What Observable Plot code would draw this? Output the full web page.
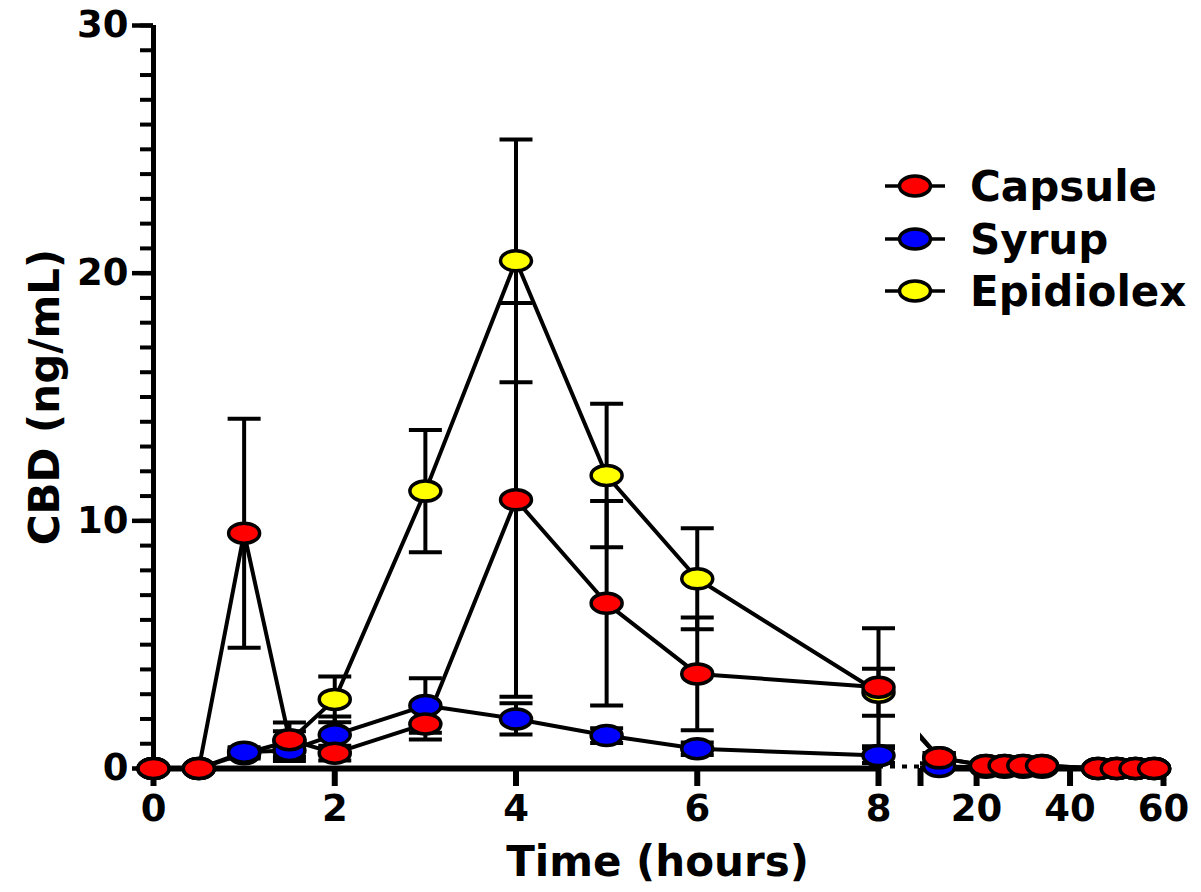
<!DOCTYPE html>
<html><head><meta charset="utf-8">
<script src="https://cdn.jsdelivr.net/npm/d3@7"></script>
<script src="https://cdn.jsdelivr.net/npm/@observablehq/plot@0.6"></script>
<style>
body{margin:0;background:#fff;}
#wrap{position:relative;width:1201px;height:892px;}
#wrap svg.legend{position:absolute;left:0;top:0;pointer-events:none;}
</style></head><body><div id="wrap"></div>
<script>
// ---- data ----
const times = [0, 0.5, 1, 1.5, 2, 3, 4, 5, 6, 8, 12, 22, 26, 30, 34, 46, 50, 54, 58];
const capsuleMean   = [0, 0, 9.5, 1.16, 0.62, 1.8, 10.85, 6.67, 3.82, 3.28, 0.43, 0.12, 0.12, 0.12, 0.12, 0, 0, 0, 0];
const capsuleSD     = [0, 0, 4.62, 0.7, 0.3, 0.63, 7.95, 4.13, 2.28, 2.38, 0.2, 0.05, 0.05, 0.05, 0.05, 0, 0, 0, 0];
const syrupMean     = [0, 0, 0.66, 0.73, 1.36, 2.54, 2.0, 1.33, 0.8, 0.52, 0.08, 0.05, 0.05, 0.05, 0.05, 0, 0, 0, 0];
const syrupSD       = [0, 0, 0.2, 0.43, 0.74, 1.1, 0.63, 0.3, 0.25, 0.3, 0.05, 0, 0, 0, 0, 0, 0, 0, 0];
const epidiolexMean = [0, 0, 0.6, 1.1, 2.79, 11.2, 20.5, 11.83, 7.66, 3.08, 0.43, 0.12, 0.12, 0.12, 0.12, 0, 0, 0, 0];
const epidiolexSD   = [0, 0, 0.2, 0.4, 0.92, 2.47, 4.9, 2.9, 2.04, 0.95, 0.2, 0, 0, 0, 0, 0, 0, 0, 0];

const seriesNames  = ["Capsule", "Syrup", "Epidiolex"];
const seriesColors = ["#ff0000", "#0000ff", "#ffff00"];
const xTicks = [0, 2, 4, 6, 8, 20, 40, 60];
const yTicks = [0, 10, 20, 30];
const yMinorTicks = d3.range(0, 31, 1);
const breakStart = 8, breakEnd = 8.001;
const xLabel = "Time (hours)";
const yLabel = "CBD (ng/mL)";

// ---- table ----
const means = [capsuleMean, syrupMean, epidiolexMean];
const sds = [capsuleSD, syrupSD, epidiolexSD];
const drawOrder = [2, 1, 0]; // Epidiolex below, Capsule on top
const rows = [];
for (const s of drawOrder) {
  times.forEach((t, i) => rows.push({series: seriesNames[s], t, mean: means[s][i], sd: sds[s][i]}));
}
const errRows = rows.filter(d => d.sd > 0);

const K = 0.5523;
const ellipse = {draw(ctx) {
  const rx = 15.5, ry = 10;
  ctx.moveTo(rx, 0);
  ctx.bezierCurveTo(rx, K * ry, K * rx, ry, 0, ry);
  ctx.bezierCurveTo(-K * rx, ry, -rx, K * ry, -rx, 0);
  ctx.bezierCurveTo(-rx, -K * ry, -K * rx, -ry, 0, -ry);
  ctx.bezierCurveTo(K * rx, -ry, rx, -K * ry, rx, 0);
  ctx.closePath();
}};
const cap = {draw(ctx) { ctx.moveTo(-16.5, 0); ctx.lineTo(16.5, 0); }};

const chart = Plot.plot({
  width: 1201, height: 892,
  marginLeft: 153, marginRight: 40, marginTop: 25, marginBottom: 124,
  style: {fontFamily: "'DejaVu Sans', sans-serif", fontWeight: "bold", color: "black", background: "white", overflow: "visible"},
  x: {type: "linear", domain: [0, breakStart, breakEnd, 60], range: [153, 878, 920, 1163], label: null},
  y: {domain: [0, 30], label: null},
  color: {domain: seriesNames, range: seriesColors},
  marks: [
    Plot.line(rows, {x: "t", y: "mean", z: "series", stroke: "black", strokeWidth: 4}),
    Plot.rect([0], {x1: breakStart, x2: breakEnd, y1: 0, y2: 30, fill: "white"}),
    Plot.axisY({ticks: yMinorTicks, tickSize: 13, strokeWidth: 4, tickFormat: () => "", label: null}),
    Plot.axisY({ticks: yTicks, tickSize: 21, strokeWidth: 4.5, tickPadding: 4, fontSize: 37, tickFormat: d => String(d), label: null}),
    Plot.axisX({ticks: xTicks, tickSize: 18, strokeWidth: 6, tickPadding: 8, fontSize: 37, tickFormat: d => String(d), label: null}),
    Plot.axisX({ticks: [breakEnd], tickSize: 18, strokeWidth: 6, tickFormat: () => "", label: null}),
    Plot.ruleX([0], {y1: 0, y2: 30, strokeWidth: 5}),
    Plot.ruleY([0], {x1: 0, x2: breakStart, strokeWidth: 6}),
    Plot.ruleY([0], {x1: breakEnd, x2: 60, strokeWidth: 6}),
    Plot.ruleY([0], {x1: breakStart, x2: breakEnd, strokeWidth: 4, strokeDasharray: "5,7", dy: -2}),
    Plot.ruleX(errRows, {x: "t", y1: d => d.mean - d.sd, y2: d => d.mean + d.sd, strokeWidth: 4}),
    Plot.dot(errRows, {x: "t", y: d => d.mean + d.sd, symbol: cap, stroke: "black", strokeWidth: 4, fill: "none"}),
    Plot.dot(errRows, {x: "t", y: d => d.mean - d.sd, symbol: cap, stroke: "black", strokeWidth: 4, fill: "none"}),
    Plot.dot(rows, {x: "t", y: "mean", symbol: ellipse, fill: "series", stroke: "black", strokeWidth: 3.5}),
    Plot.text([xLabel], {frameAnchor: "bottom", dy: 94, fontSize: 42, textAnchor: "middle", lineAnchor: "middle"}),
    Plot.text([yLabel], {frameAnchor: "left", dx: -108, rotate: -90, fontSize: 42, textAnchor: "middle", lineAnchor: "middle"})
  ]
});
const wrap = document.getElementById("wrap");
wrap.appendChild(chart);

// ---- legend ----
const legendRowsY = [186, 239, 291];
const lg = d3.select(wrap).append("svg").attr("class", "legend").attr("width", 1201).attr("height", 892);
seriesNames.forEach((name, i) => {
  const g = lg.append("g").attr("transform", `translate(0,${legendRowsY[i]})`);
  g.append("line").attr("x1", 885).attr("x2", 945).attr("stroke", "black").attr("stroke-width", 3.5);
  g.append("ellipse").attr("cx", 915).attr("rx", 15.5).attr("ry", 10)
    .attr("fill", seriesColors[i]).attr("stroke", "black").attr("stroke-width", 3.5);
  g.append("text").attr("x", 970).attr("y", 15).text(name)
    .attr("font-family", "'DejaVu Sans', sans-serif").attr("font-weight", "bold").attr("font-size", 42);
});
</script></body></html>
